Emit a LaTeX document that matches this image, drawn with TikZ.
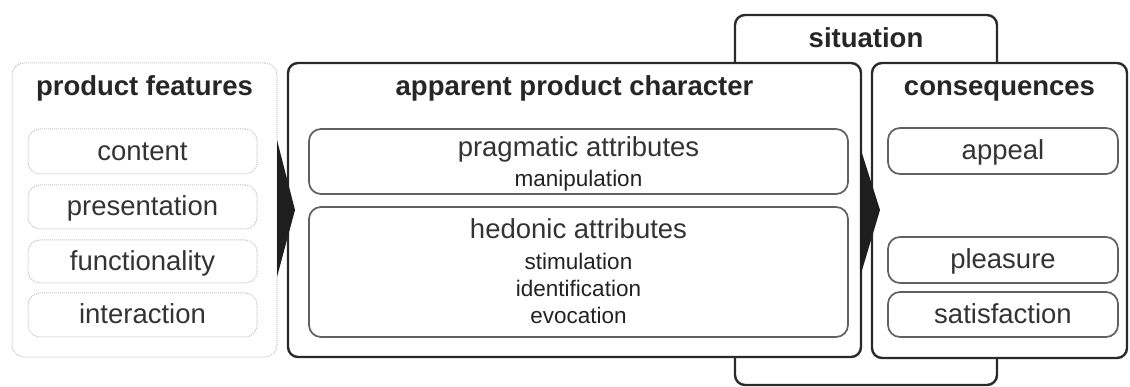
\documentclass[tikz,border=0pt]{standalone}
\usepackage{fontspec}
\setmainfont{Liberation Sans}
\usetikzlibrary{calc}
\definecolor{outerc}{HTML}{2A2A2A}
\definecolor{innerc}{HTML}{606060}
\definecolor{dotc}{HTML}{C4C4C4}
\definecolor{txtc}{HTML}{333333}
\definecolor{subc}{HTML}{222222}
\definecolor{tric}{HTML}{1E1E1E}
\tikzset{
  boxbase/.style={anchor=north west, inner sep=0pt, outer sep=0pt, rectangle},
  outerbox/.style={boxbase, draw=outerc, line width=2.4pt, rounded corners=10pt, fill=white},
  innerbox/.style={boxbase, draw=innerc, line width=1.7pt, rounded corners=12pt, fill=white},
  dotbox/.style={boxbase, draw=dotc, densely dotted, line width=1pt, rounded corners=12pt},
  titletext/.style={inner sep=0pt, anchor=base, yshift=-8pt, font=\fontsize{27.5}{30}\selectfont\bfseries, text=black!85},
  itemtext/.style={inner sep=0pt, anchor=base, yshift=-9pt, font=\fontsize{27.5}{30}\selectfont, text=txtc},
  subtext/.style={inner sep=0pt, anchor=base, yshift=-8pt, font=\fontsize{22.5}{25}\selectfont, text=subc},
  tri/.style={fill=tric, draw=none}
}
\begin{document}
\begin{tikzpicture}[x=1pt, y=-1pt]
\useasboundingbox (0,0) rectangle (1130,387);
% situation (behind)
\node[outerbox, minimum width=262pt, minimum height=370pt] (sit) at (735,15) {};
\node[titletext] (sitlbl) at (866,40) {situation};
% product features
\node[dotbox, minimum width=265pt, minimum height=294pt] (pf) at (12,63) {};
\node[titletext] (pft) at ($(pf.north)+(0,25)$) {product features};
\node[dotbox, minimum width=229pt, minimum height=45pt] (pf1) at (28,129) {};
\node[dotbox, minimum width=229pt, minimum height=44pt] (pf2) at (28,185) {};
\node[dotbox, minimum width=229pt, minimum height=43pt] (pf3) at (28,240) {};
\node[dotbox, minimum width=229pt, minimum height=44pt] (pf4) at (28,293) {};
\node[itemtext] (pf1t) at (pf1.center) {content};
\node[itemtext] (pf2t) at (pf2.center) {presentation};
\node[itemtext] (pf3t) at (pf3.center) {functionality};
\node[itemtext] (pf4t) at (pf4.center) {interaction};
% apparent product character
\node[outerbox, minimum width=573pt, minimum height=294pt] (apc) at (288,63) {};
\node[titletext] (apct) at ($(apc.north)+(0,25)$) {apparent product character};
\node[innerbox, minimum width=539pt, minimum height=65pt] (prag) at (309,129) {};
\node[itemtext] (pragt) at ($(prag.north)+(0,19)$) {pragmatic attributes};
\node[subtext] (prag1) at ($(prag.north)+(0,50)$) {manipulation};
\node[innerbox, minimum width=539pt, minimum height=130pt] (hed) at (309,207) {};
\node[itemtext] (hedt) at ($(hed.north)+(0,23)$) {hedonic attributes};
\node[subtext] (hed1) at ($(hed.north)+(0,55)$) {stimulation};
\node[subtext] (hed2) at ($(hed.north)+(0,82)$) {identification};
\node[subtext] (hed3) at ($(hed.north)+(0,109)$) {evocation};
% consequences
\node[outerbox, minimum width=255pt, minimum height=295pt] (cons) at (872,63) {};
\node[titletext] (const) at ($(cons.north)+(0,25)$) {consequences};
\node[innerbox, minimum width=230pt, minimum height=46pt] (c1) at (888,128) {};
\node[innerbox, minimum width=230pt, minimum height=46pt] (c2) at (888,237) {};
\node[innerbox, minimum width=230pt, minimum height=45pt] (c3) at (888,292) {};
\node[itemtext] (c1t) at (c1.center) {appeal};
\node[itemtext] (c2t) at (c2.center) {pleasure};
\node[itemtext] (c3t) at (c3.center) {satisfaction};
% connectors (chevrons)
\fill[tri] ($(pf.east)+(0,-70)$) -- ($(pf.east)+(0,67)$) -- ($(pf.east)+(18,0)$) -- cycle;
\fill[tri] ($(apc.east)+(-1,-63)$) -- ($(apc.east)+(-1,67)$) -- ($(apc.east)+(19,0)$) -- cycle;
\end{tikzpicture}
\end{document}
